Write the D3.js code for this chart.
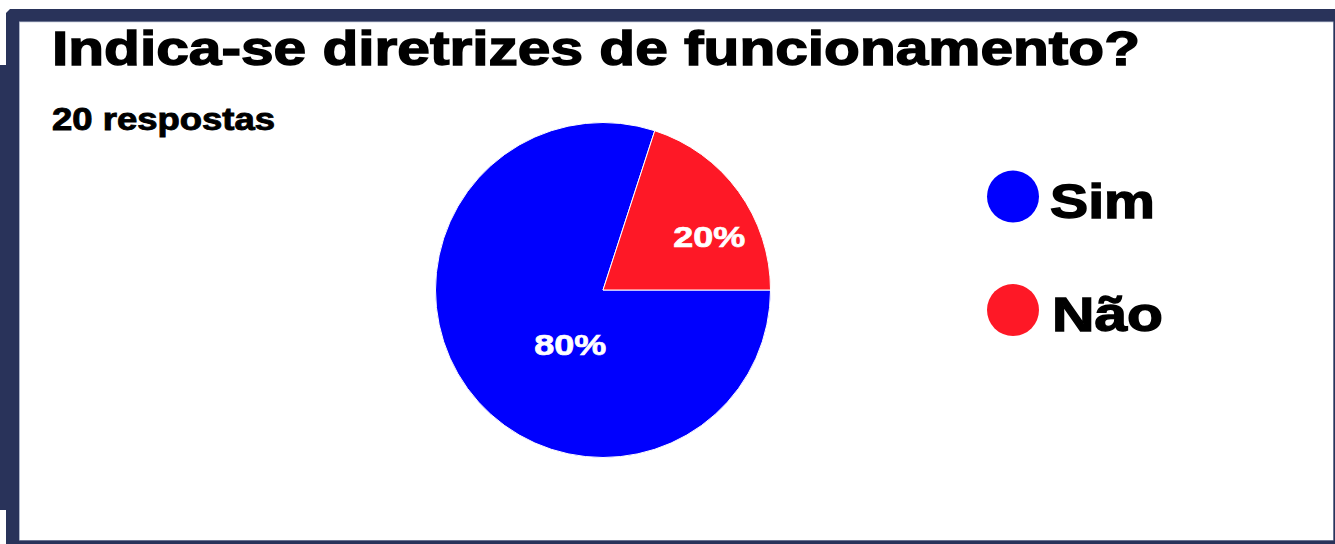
<!DOCTYPE html>
<meta charset="utf-8">
<style>

body {
  margin: 0;
  background: #fff;
}

text {
  font-family: "Liberation Sans", Arial, sans-serif;
  font-weight: bold;
}

</style>
<body>
<script src="https://d3js.org/d3.v7.min.js"></script>
<script>

var title = "Indica-se diretrizes de funcionamento?",
    subtitle = "20 respostas";

var categories = ["Sim", "Não"],
    values = [16, 4],
    colors = ["#0000fe", "#fe1826"];

var width = 1335,
    height = 544,
    navy = "#29335a";

var svg = d3.select("body").append("svg")
    .attr("width", width)
    .attr("height", height);

// frame around the card
svg.append("path")
    .attr("fill", navy)
    .attr("d", "M6,13L10,9H1335V544H6V510H0V65H6Z");

svg.append("rect")
    .attr("x", 19.5)
    .attr("y", 22)
    .attr("width", 1313.5)
    .attr("height", 518)
    .attr("fill", "#fff")
    .attr("stroke", "#aeb6ca")
    .attr("stroke-width", 1);

svg.append("rect")
    .attr("x", 20)
    .attr("y", 22.5)
    .attr("width", 1313)
    .attr("height", 517.5)
    .attr("fill", "#fff");

// the picture's text is wider and heavier than plain bold
function fit(sel, w, sw) {
  return sel
      .attr("textLength", w)
      .attr("lengthAdjust", "spacingAndGlyphs")
      .attr("stroke", function() { return d3.select(this).attr("fill") || "#000"; })
      .attr("stroke-width", sw);
}

svg.append("text")
    .attr("x", 52)
    .attr("y", 65)
    .style("font-size", "49px")
    .text(title)
    .call(fit, 1088, 1.4);

svg.append("text")
    .attr("x", 52)
    .attr("y", 130)
    .style("font-size", "31px")
    .text(subtitle)
    .call(fit, 223, 0.9);

// pie
var cx = 603,
    cy = 290,
    radius = 167.5;

var pie = d3.pie()
    .sort(null)
    .startAngle(Math.PI / 2)
    .endAngle(Math.PI / 2 + 2 * Math.PI);

var arcs = pie(values);

var arc = d3.arc()
    .innerRadius(0)
    .outerRadius(radius);

var g = svg.append("g")
    .attr("transform", "translate(" + cx + "," + cy + ")");

g.selectAll("path")
    .data(arcs)
  .enter().append("path")
    .attr("d", arc)
    .attr("fill", function(d, i) { return colors[i]; })
    .attr("stroke", "#fff")
    .attr("stroke-width", 1);

// label spot inside each slice: [share of slice angle, share of radius]
var labelSpot = [[0.42, 0.38], [0.63, 0.71]];

var total = d3.sum(values);

g.selectAll(".label")
    .data(arcs)
  .enter().append("text")
    .attr("class", "label")
    .attr("text-anchor", "middle")
    .attr("fill", "#fff")
    .style("font-size", "30px")
    .attr("transform", function(d, i) {
      var a = d.startAngle + (d.endAngle - d.startAngle) * labelSpot[i][0],
          r = radius * labelSpot[i][1];
      return "translate(" + (r * Math.sin(a)) + "," + (-r * Math.cos(a) + 10.5) + ")";
    })
    .text(function(d) { return Math.round(d.value / total * 100) + "%"; })
    .call(fit, 72, 0.7);

// legend
var legend = svg.selectAll(".legend")
    .data(categories)
  .enter().append("g")
    .attr("class", "legend")
    .attr("transform", function(d, i) { return "translate(1013," + (196.5 + i * 113.5) + ")"; });

legend.append("circle")
    .attr("r", 26)
    .attr("fill", function(d, i) { return colors[i]; });

legend.append("text")
    .attr("x", function(d, i) { return i ? 39 : 37; })
    .attr("y", 21)
    .style("font-size", "49px")
    .text(function(d) { return d; })
    .each(function(d, i) {
      d3.select(this).call(fit, i ? 111 : 105, 1.4);
    });

</script>
